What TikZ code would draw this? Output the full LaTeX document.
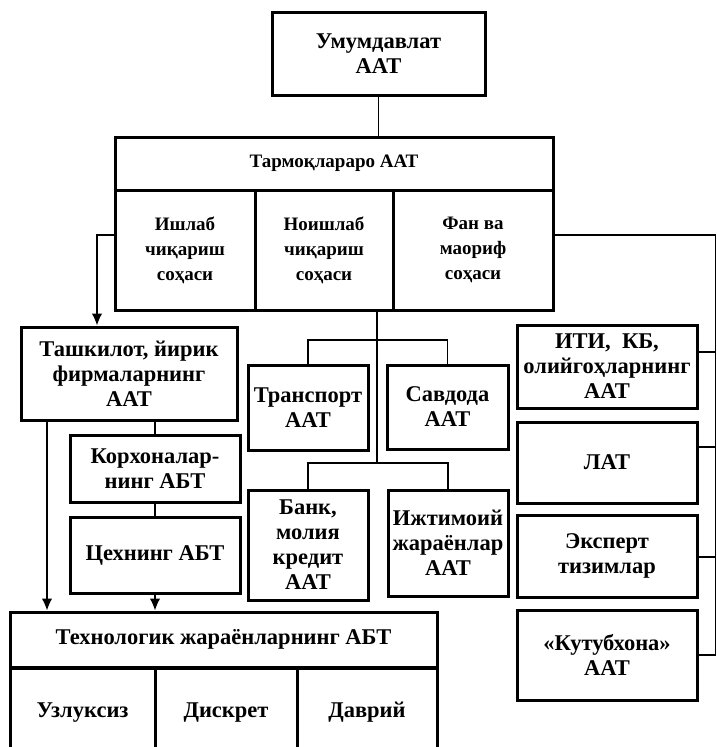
\documentclass[tikz,border=0pt]{standalone}
\usepackage{fontspec}
\setmainfont{Liberation Serif}
\usetikzlibrary{arrows.meta}
\tikzset{%
  blok/.style={
    draw,
    rectangle,
    line width=3pt,
    align=center,
    inner sep=0pt,
    font=\fontsize{22.5}{25}\selectfont\bfseries
  },
  blok kichik/.style={
    blok,
    font=\fontsize{19}{25}\selectfont\bfseries
  },
  ustun/.style={
    blok,
    anchor=north,
    text height=49pt,
    text depth=90pt
  },
  chiziq/.style={line width=1.4pt},
}

\begin{document}
\begin{tikzpicture}[x=1pt,y=-1pt]
  \useasboundingbox (0,0) rectangle (717,747);
  \clip (0,0) rectangle (717,747);

  \node (umum) at (378.5,53.5) [blok,minimum width=213pt,minimum height=83pt]
  {Умумдавлат\\ААТ};

  % tarmoqlararo blok
  \node (tarm) at (334,163.5) [blok kichik,minimum width=438pt,minimum height=53pt]
  {Тармоқлараро ААТ};
  \node (ishlab) at (185,250) [blok kichik,minimum width=140pt,minimum height=120pt]
  {Ишлаб\\чиқариш\\соҳаси};
  \node (noishlab) at (324,250) [blok kichik,minimum width=138pt,minimum height=120pt]
  {Ноишлаб\\чиқариш\\соҳаси};
  \node (fan) at (473,250) [blok kichik,minimum width=160pt,minimum height=120pt]
  {Фан ва\\маориф\\соҳаси};

  % chap tomon
  \node (tashkilot) at (129,373.5) [blok,minimum width=216pt,minimum height=93pt]
  {Ташкилот, йирик\\фирмаларнинг\\ААТ};
  \node (korxona) at (155,468.5) [blok,minimum width=170pt,minimum height=67pt]
  {Корхоналар-\\нинг АБТ};
  \node (sex) at (155,555) [blok,minimum width=170pt,minimum height=76pt]
  {Цехнинг АБТ};

  % orta
  \node (transport) at (308,407.5) [blok,minimum width=120pt,minimum height=85pt]
  {Транспорт\\ААТ};
  \node (savdo) at (447.5,407) [blok,minimum width=121pt,minimum height=84pt]
  {Савдода\\ААТ};
  \node (bank) at (308,545) [blok,minimum width=120pt,minimum height=110pt]
  {Банк,\\молия\\кредит\\ААТ};
  \node (ijtimoiy) at (448,543) [blok,minimum width=120pt,minimum height=106pt]
  {Ижтимоий\\жараёнлар\\ААТ};

  % ong tomon
  \node (iti) at (607,366.5) [blok,minimum width=180pt,minimum height=83pt]
  {ИТИ,\ \ КБ,\\олийгоҳларнинг\\ААТ};
  \node (lat) at (607,462.5) [blok,minimum width=180pt,minimum height=81pt]
  {ЛАТ};
  \node (ekspert) at (607,556) [blok,minimum width=180pt,minimum height=82pt]
  {Эксперт\\тизимлар};
  \node (kutub) at (607,655) [blok,minimum width=180pt,minimum height=90pt]
  {«Кутубхона»\\ААТ};

  % texnologik blok
  \node (texno) at (223.5,639.5) [blok,minimum width=427pt,minimum height=55pt]
  {Технологик жараёнларнинг АБТ};
  \node (uzluksiz) at (82.5,667) [ustun,minimum width=145pt] {Узлуксиз};
  \node (diskret) at (226,667) [ustun,minimum width=142pt] {Дискрет};
  \node (davriy) at (367,667) [ustun,minimum width=140pt] {Даврий};

  \coordinate (chap) at (97,235);
  \coordinate (ong) at (715.5,235);
  \coordinate (orta) at (377,463);
  \coordinate (shox1) at (377,340);
  \coordinate (chap2) at (47,420);

  \draw [chiziq] (umum.south) -- (umum.south |- tarm.north);
  \draw [chiziq,-{Latex[length=12pt,width=10.5pt]}] (ishlab.west |- chap) -- (chap)
    -- (chap |- tashkilot.north);
  \draw [chiziq] (fan.east |- ong) -- (ong) -- (ong |- kutub.east);
  \draw [chiziq] (iti.east |- 0,352) -- (ong |- 0,352);
  \draw [chiziq] (lat.east |- 0,447) -- (ong |- 0,447);
  \draw [chiziq] (ekspert.east |- 0,557) -- (ong |- 0,557);
  \draw [chiziq] (kutub.east) -- (ong |- kutub.east);

  \draw [chiziq] (orta |- noishlab.south) -- (orta);
  \draw [chiziq] (transport.north) -- (transport.north |- shox1)
    -- (savdo.north |- shox1) -- (savdo.north);
  \draw [chiziq] (bank.north) -- (bank.north |- orta)
    -- (ijtimoiy.north |- orta) -- (ijtimoiy.north);

  \draw [chiziq] (tashkilot.south -| korxona.north) -- (korxona.north);
  \draw [chiziq] (korxona.south) -- (sex.north);
  \draw [chiziq,-{Latex[length=12pt,width=10.5pt]}] (sex.south) -- (sex.south |- texno.north);
  \draw [chiziq,-{Latex[length=12pt,width=10.5pt]}] (chap2) -- (chap2 |- texno.north);
\end{tikzpicture}
\end{document}
